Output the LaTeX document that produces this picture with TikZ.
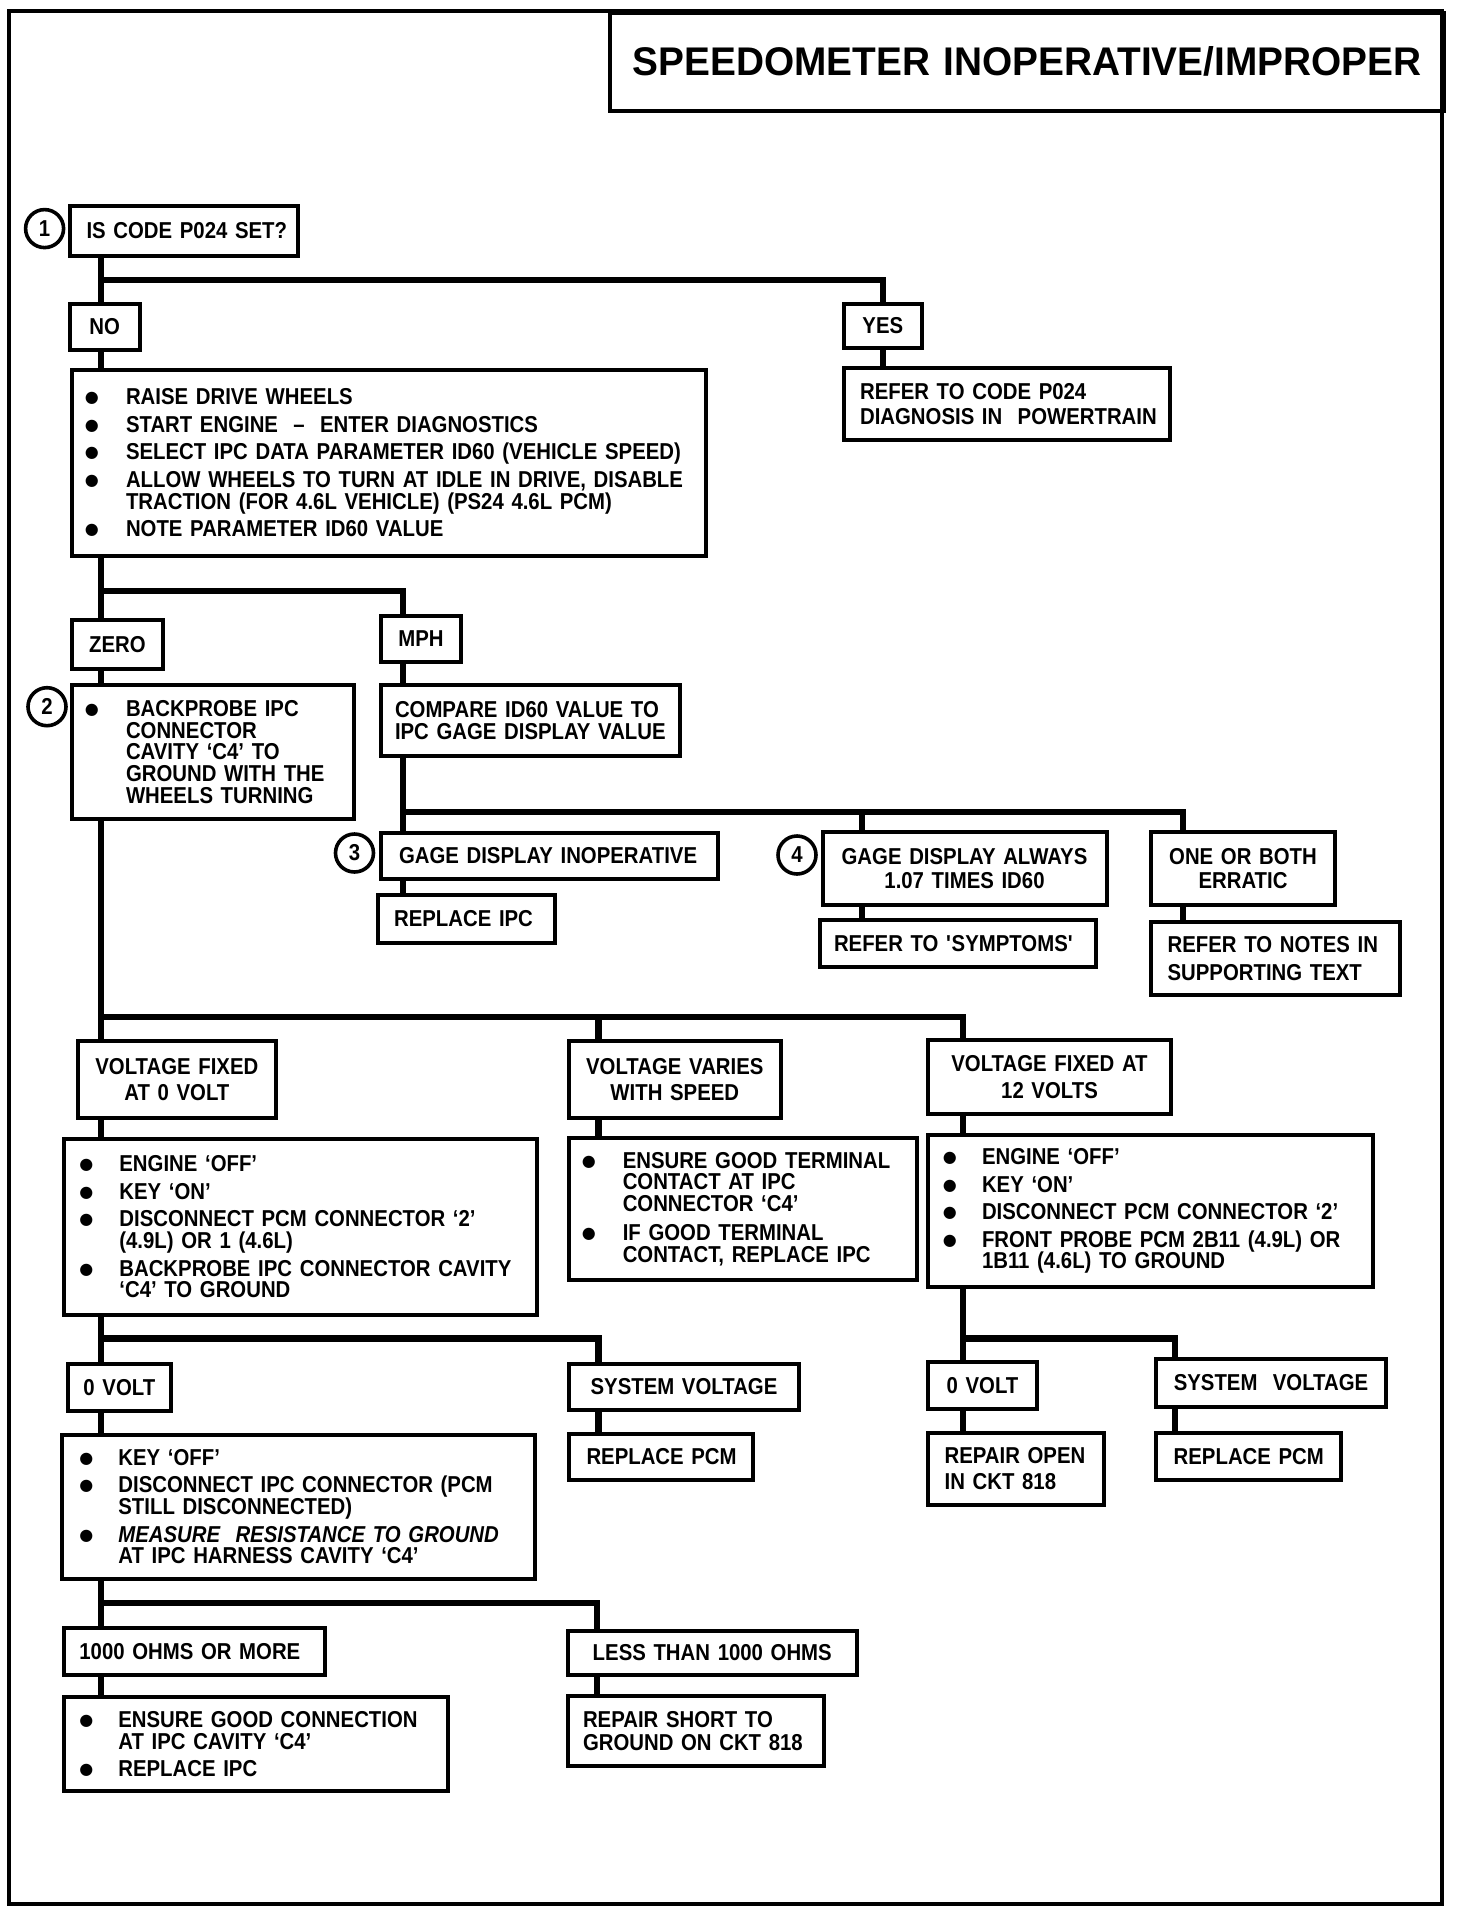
\documentclass[tikz,border=0pt]{standalone}
\usepackage{fontspec}
\setmainfont{Liberation Sans}[FakeStretch=0.885, UprightFont=*-Bold, ItalicFont=*-Bold Italic]
\newfontfamily\titlefont{Liberation Sans}[FakeStretch=0.97]
\newfontfamily\bulfont{DejaVu Sans}
\newlength\upx
\setlength\upx{0.5pt}
\def\bwv{40}
\newcommand\bul{\raisebox{1.0pt}{\bulfont\fontsize{8pt}{8pt}\selectfont ●}}
\newcommand\itm[1]{\makebox[\bwv\upx][l]{\kern-0.5pt\bul}\mbox{#1}}
\newcommand\cnt[1]{\hspace*{\bwv\upx}\mbox{#1}}
\tikzset{
  box/.style={draw, line width=2pt, inner ysep=2pt, font=\fontsize{11.5pt}{10.85pt}\selectfont},
  conn/.style={line width=3.2pt},
  circ/.style={draw, circle, line width=1.8pt, minimum size=19pt, inner sep=0pt, font=\fontsize{11.5pt}{12pt}\selectfont},
  frame/.style={line width=2pt}
}
% name x1 y1 x2 y2 pad align content
\newcommand\bx[9][]{%
  \pgfmathsetmacro\bxw{(#5-#3)*0.5}%
  \pgfmathsetmacro\bxh{(#6-#4)*0.5}%
  \pgfmathsetmacro\bxt{(#5-#3-2*#7)*0.5}%
  \pgfmathsetmacro\bxp{#7*0.5}%
  \node[box, anchor=north west, minimum width=\bxw pt, minimum height=\bxh pt,
        inner xsep=\bxp pt, text width=\bxt pt, align=#8, #1] (#2) at (#3,#4) {#9};}
\begin{document}
\begin{tikzpicture}[x=0.5pt, y=-0.5pt]
\fill[white] (0,0) rectangle (1472,1916);
\useasboundingbox (0,0) rectangle (1472,1916);
\draw[frame] (9.4,10.7) rectangle (1442,1904);

\bx[font=\titlefont\bfseries\fontsize{20pt}{24pt}\selectfont]{title}{608}{10.7}{1442}{109}{10}{center}{SPEEDOMETER INOPERATIVE/IMPROPER}

% level 1
\node[circ] (c1) at (44.6,228.6) {1};
\bx{q1}{68}{203.6}{296}{253.6}{16.5}{left}{\mbox{IS CODE P024 SET?}}
\bx{no}{68}{302}{137.5}{348}{4}{center}{NO}
\bx{yes}{841.6}{302}{920}{346}{4}{center}{YES}
\bx{ref}{841.6}{366}{1168}{437.5}{16.5}{left}{\mbox{REFER TO CODE P024}\\[1.6pt]\mbox{DIAGNOSIS IN\ \ POWERTRAIN}}
\def\bwv{40.2}
\bx{b1}{69.5}{368}{704}{553.6}{14.3}{left}{%
\itm{RAISE DRIVE WHEELS}\\[2.9pt]
\itm{START ENGINE \ – \ ENTER DIAGNOSTICS}\\[2.9pt]
\itm{SELECT IPC DATA PARAMETER ID60 (VEHICLE SPEED)}\\[2.9pt]
\itm{ALLOW WHEELS TO TURN AT IDLE IN DRIVE, DISABLE}\\
\cnt{TRACTION (FOR 4.6L VEHICLE) (PS24 4.6L PCM)}\\[2.9pt]
\itm{NOTE PARAMETER ID60 VALUE}}

% level 2
\bx{zero}{70}{617.7}{161}{666.7}{4}{center}{ZERO}
\bx{mph}{379}{614}{459}{660}{4}{center}{MPH}
\node[circ] (c2) at (47,706.7) {2};
\bx{b2}{69.5}{682.7}{352}{817.3}{14.3}{left}{%
\itm{BACKPROBE IPC}\\
\cnt{CONNECTOR}\\
\cnt{CAVITY ‘C4’ TO}\\
\cnt{GROUND WITH THE}\\
\cnt{WHEELS TURNING}}
\bx{cmp}{379}{682.7}{678}{754}{14}{left}{\mbox{COMPARE ID60 VALUE TO}\\\mbox{IPC GAGE DISPLAY VALUE}}

% level 3
\node[circ] (c3) at (354.5,853) {3};
\bx{gi}{379}{830.7}{716}{877}{18}{left}{\mbox{GAGE DISPLAY INOPERATIVE}}
\bx{ri}{375.6}{893.3}{553}{940.7}{16.5}{left}{\mbox{REPLACE IPC}}
\node[circ] (c4) at (797,855) {4};
\bx{ga}{820.5}{830}{1104.5}{903.3}{4}{center}{\mbox{GAGE DISPLAY ALWAYS}\\[1.2pt]\mbox{1.07 TIMES ID60}}
\bx{rs}{818}{918.3}{1093.7}{965}{14}{left}{\mbox{REFER TO \textquotesingle SYMPTOMS\textquotesingle}}
\bx{oe}{1149}{830}{1333}{903.3}{4}{center}{\mbox{ONE OR BOTH}\\[1.2pt]\mbox{ERRATIC}}
\bx{rn}{1149}{920}{1398}{992.7}{16.6}{left}{\mbox{REFER TO NOTES IN}\\[3.3pt]\mbox{SUPPORTING TEXT}}

% level 4
\bx{vf0}{76}{1039.3}{273.7}{1116}{4}{center}{\mbox{VOLTAGE FIXED}\\[2.5pt]\mbox{AT 0 VOLT}}
\bx{vv}{567}{1039.3}{778.6}{1116}{4}{center}{\mbox{VOLTAGE VARIES}\\[2.5pt]\mbox{WITH SPEED}}
\bx{vf12}{926}{1038.3}{1169}{1111.7}{4}{center}{\mbox{VOLTAGE FIXED AT}\\[2.5pt]\mbox{12 VOLTS}}
\def\bwv{39}
\bx{b3}{62.4}{1136.7}{535}{1313.3}{16}{left}{%
\itm{ENGINE ‘OFF’}\\[2.9pt]
\itm{KEY ‘ON’}\\[2.9pt]
\itm{DISCONNECT PCM CONNECTOR ‘2’}\\
\cnt{(4.9L) OR 1 (4.6L)}\\[2.9pt]
\itm{BACKPROBE IPC CONNECTOR CAVITY}\\
\cnt{‘C4’ TO GROUND}}
\def\bwv{40}
\bx{be}{567}{1136}{915}{1278}{13.75}{left}{%
\itm{ENSURE GOOD TERMINAL}\\
\cnt{CONTACT AT IPC}\\
\cnt{CONNECTOR ‘C4’}\\[3.6pt]
\itm{IF GOOD TERMINAL}\\
\cnt{CONTACT, REPLACE IPC}}
\def\bwv{38.25}
\bx{b4}{926}{1133.3}{1370.7}{1285}{15.75}{left}{%
\itm{ENGINE ‘OFF’}\\[2.9pt]
\itm{KEY ‘ON’}\\[2.9pt]
\itm{DISCONNECT PCM CONNECTOR ‘2’}\\[2.9pt]
\itm{FRONT PROBE PCM 2B11 (4.9L) OR}\\
\cnt{1B11 (4.6L) TO GROUND}}

% level 5
\bx{ov1}{65.7}{1361.7}{169}{1409.3}{4}{center}{\mbox{0 VOLT}}
\bx{sv1}{567}{1361.7}{797}{1408.3}{4}{center}{\mbox{SYSTEM VOLTAGE}}
\bx{ov2}{926}{1360}{1035}{1407.3}{4}{center}{\mbox{0 VOLT}}
\bx{sv2}{1154}{1356.7}{1384}{1405}{4}{center}{\mbox{SYSTEM\ \ VOLTAGE}}
\def\bwv{38}
\bx{b5}{60}{1432.7}{533}{1576.7}{18.4}{left}{%
\itm{KEY ‘OFF’}\\[2.9pt]
\itm{DISCONNECT IPC CONNECTOR (PCM}\\
\cnt{STILL DISCONNECTED)}\\[2.9pt]
\itm{\itshape MEASURE\ \ RESISTANCE TO GROUND}\\
\cnt{AT IPC HARNESS CAVITY ‘C4’}}
\bx{rp1}{567}{1431.7}{750.6}{1477.7}{17.5}{left}{\mbox{REPLACE PCM}}
\bx{ro}{926}{1431}{1102}{1502.7}{16.6}{left}{\mbox{REPAIR OPEN}\\[2.1pt]\mbox{IN CKT 818}}
\bx{rp2}{1154}{1431}{1339.3}{1477.7}{17.7}{left}{\mbox{REPLACE PCM}}

% level 6
\bx{om}{62.4}{1626}{323}{1673.3}{15}{left}{\mbox{1000 OHMS OR MORE}}
\bx{lt}{565.7}{1628.7}{854.8}{1673.3}{4}{center}{\mbox{LESS THAN 1000 OHMS}}
\bx{b6}{62.4}{1695.3}{446}{1789.3}{16}{left}{%
\itm{ENSURE GOOD CONNECTION}\\
\cnt{AT IPC CAVITY ‘C4’}\\[2.9pt]
\itm{REPLACE IPC}}
\bx{rsh}{565.7}{1694.3}{822}{1764.3}{15.3}{left}{\mbox{REPAIR SHORT TO}\\[0.8pt]\mbox{GROUND ON CKT 818}}

% junction coordinates
\coordinate (j1) at (101,280);
\coordinate (j2) at (101,590.7);
\coordinate (cm) at (403,590.7);
\coordinate (j3) at (403,811.7);
\coordinate (d4) at (862,811.7);
\coordinate (d5) at (1183,811.7);
\coordinate (j4) at (101,1016.7);
\coordinate (d6) at (598.6,1016.7);
\coordinate (d7) at (963,1016.7);
\coordinate (j5) at (101,1338.3);
\coordinate (d8) at (598.6,1338.3);
\coordinate (j6) at (963,1338.3);
\coordinate (d9) at (1175,1338.3);
\coordinate (j7) at (101,1602.7);
\coordinate (d10) at (597,1602.7);

% connectors
\draw[conn] (q1.south -| j1) -- (no.north -| j1);
\draw[conn] (j1) -| (yes.north);
\draw[conn] (yes.south) -- (ref.north -| yes.south);
\draw[conn] (no.south -| j1) -- (b1.north -| j1);
\draw[conn] (b1.south -| j2) -- (zero.north -| j2);
\draw[conn] (j2) -- (cm) -- (mph.north -| cm);
\draw[conn] (zero.south -| j2) -- (b2.north -| j2);
\draw[conn] (mph.south -| cm) -- (cmp.north -| cm);
\draw[conn] (cmp.south -| j3) -- (gi.north -| j3);
\draw[conn] (j3) -- (d5) -- (oe.north -| d5);
\draw[conn] (d4) -- (ga.north -| d4);
\draw[conn] (gi.south -| j3) -- (ri.north -| j3);
\draw[conn] (ga.south -| d4) -- (rs.north -| d4);
\draw[conn] (oe.south -| d5) -- (rn.north -| d5);
\draw[conn] (b2.south -| j4) -- (vf0.north -| j4);
\draw[conn] (j4) -- (d7) -- (vf12.north -| d7);
\draw[conn] (d6) -- (vv.north -| d6);
\draw[conn] (vf0.south -| j4) -- (b3.north -| j4);
\draw[conn] (vv.south -| d6) -- (be.north -| d6);
\draw[conn] (vf12.south -| d7) -- (b4.north -| d7);
\draw[conn] (b3.south -| j5) -- (ov1.north -| j5);
\draw[conn] (j5) -- (d8) -- (sv1.north -| d8);
\draw[conn] (b4.south -| j6) -- (ov2.north -| j6);
\draw[conn] (j6) -- (d9) -- (sv2.north -| d9);
\draw[conn] (ov1.south -| j5) -- (b5.north -| j5);
\draw[conn] (sv1.south -| d8) -- (rp1.north -| d8);
\draw[conn] (ov2.south -| j6) -- (ro.north -| j6);
\draw[conn] (sv2.south -| d9) -- (rp2.north -| d9);
\draw[conn] (b5.south -| j7) -- (om.north -| j7);
\draw[conn] (j7) -- (d10) -- (lt.north -| d10);
\draw[conn] (om.south -| j7) -- (b6.north -| j7);
\draw[conn] (lt.south -| d10) -- (rsh.north -| d10);
\end{tikzpicture}
\end{document}
